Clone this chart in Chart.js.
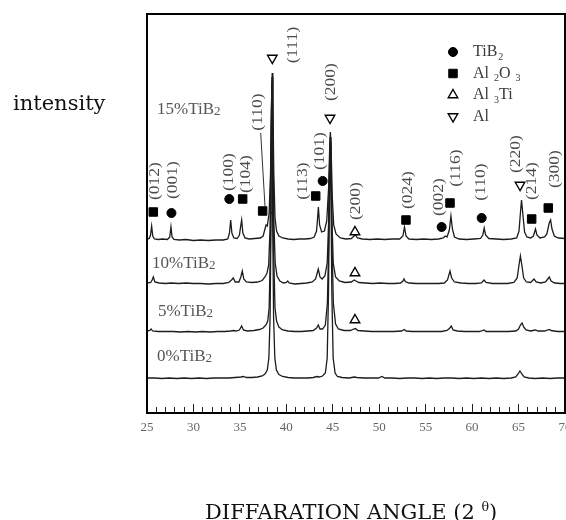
<!DOCTYPE html>
<html>
<head>
<meta charset="utf-8">
<title>XRD patterns</title>
<script src="https://cdn.jsdelivr.net/npm/chart.js@4.4.0/dist/chart.umd.min.js"></script>
<style>
  html, body { margin: 0; padding: 0; background: #fff; }
  #wrap { position: relative; width: 566px; height: 520px; overflow: hidden; }
  #xrd { position: absolute; left: 0; top: 0; }
  .outer-label { position: absolute; font-family: 'DejaVu Serif', serif; color: #111; white-space: nowrap; }
  #ylab { left: 13px; top: 90px; font-size: 21px; line-height: 26px; }
  #xlab { left: 205px; top: 494px; font-size: 21px; line-height: 26px; }
  #xlab sup { font-size: 0.6em; vertical-align: 0.65em; }
</style>
</head>
<body>
<div id="wrap">
  <canvas id="xrd" width="566" height="520"></canvas>
  <div id="ylab" class="outer-label">intensity</div>
  <div id="xlab" class="outer-label">DIFFARATION ANGLE (2 <sup>θ</sup>)</div>
</div>
<script>
// ── Axis range (2θ, degrees) ──
const X_MIN = 25, X_MAX = 70, MAJOR_STEP = 5, MINOR_STEP = 1;
const Y_MIN = 0, Y_MAX = 399;   // arbitrary intensity units

// ── Patterns: [2θ, intensity] ──
const pattern15 = [
  [25.0,174],[25.25,174.5],[25.38,178],[25.5,187],[25.62,177],[25.8,174],[26.2,173.5],[26.7,174],
  [27.2,173.5],[27.45,176],[27.58,186],[27.7,176],[27.9,173.5],[28.5,173],[29.2,173.5],[30.0,172.5],
  [30.8,173],[31.6,172.5],[32.4,173],[33.2,173],[33.7,174],[33.88,180],[34.01,193],[34.14,180],
  [34.35,175],[34.7,174.5],[34.95,178],[35.07,186],[35.19,193],[35.32,180],[35.55,175],[36.0,174],
  [36.6,174.5],[37.2,175],[37.5,177],[37.7,184],[37.82,188],[37.95,187],[38.15,200],[38.3,240],
  [38.42,318],[38.48,340],[38.55,318],[38.65,240],[38.78,195],[38.95,182],[39.2,177],[39.6,175],
  [40.2,174],[40.8,173.5],[41.4,174],[42.0,174],[42.6,174.5],[43.0,176],[43.25,182],[43.35,193],
  [43.45,206],[43.58,188],[43.8,181],[44.1,182],[44.35,192],[44.55,225],[44.68,270],[44.74,281],
  [44.82,265],[44.95,215],[45.1,188],[45.35,179],[45.8,175],[46.4,174],[47.0,174.5],[47.3,177],
  [47.45,178],[47.65,175],[48.2,174],[49.0,173.5],[49.8,174],[50.6,173.5],[51.4,174],[52.2,174],
  [52.55,177],[52.72,186],[52.88,177],[53.2,174],[54.0,173.5],[54.8,174],[55.6,173.5],[56.4,174],
  [56.9,175],[57.1,177],[57.3,176],[57.55,183],[57.72,197],[57.88,184],[58.1,176],[58.6,174],
  [59.4,173.5],[60.2,174],[60.9,174.5],[61.15,178],[61.3,185],[61.45,178],[61.8,174.5],[62.6,174],
  [63.4,173.5],[64.2,174],[64.8,175],[65.05,182],[65.2,200],[65.32,213],[65.45,200],[65.65,181],
  [65.9,176],[66.3,175],[66.6,177],[66.82,184],[66.98,178],[67.3,175],[67.8,176],[68.05,179],
  [68.3,190],[68.45,193],[68.6,184],[68.85,177],[69.3,175],[70.0,174.5]
];
const pattern10 = [
  [25.0,130],[25.4,130.5],[25.55,133],[25.68,136],[25.85,131],[26.3,130],[27.0,129.5],[27.6,130],
  [28.4,129.5],[29.2,130],[30.0,129.5],[30.8,129.5],[31.6,129],[32.4,129.5],[33.2,129.5],[33.8,130.5],
  [34.1,133],[34.29,135],[34.5,131],[34.9,131],[35.1,136],[35.26,142],[35.42,134],[35.7,131],
  [36.3,130.5],[36.9,131],[37.4,132.5],[37.7,136],[37.92,140],[38.1,148],[38.25,185],[38.38,290],
  [38.46,336],[38.54,290],[38.66,190],[38.8,150],[39.0,137],[39.3,132],[39.7,130],[40.0,130.5],
  [40.15,132],[40.3,130],[40.9,129],[41.6,129.5],[42.2,130],[42.8,131],[43.15,134],[43.44,144],
  [43.62,136],[43.85,134],[44.15,137],[44.4,150],[44.55,190],[44.67,255],[44.73,276],[44.8,255],
  [44.92,190],[45.05,150],[45.3,136],[45.7,132],[46.3,130.5],[47.0,131],[47.3,133],[47.5,132],
  [47.8,130.5],[48.5,130],[49.3,129.5],[50.1,130],[50.9,129.5],[51.7,129.5],[52.3,130],[52.55,132],
  [52.67,134],[52.8,131.5],[53.2,130],[54.0,129.5],[54.8,129.5],[55.6,129.5],[56.4,129.5],[57.0,130],
  [57.35,133],[57.62,142],[57.8,135],[58.1,131],[58.8,130],[59.6,129.5],[60.4,129.5],[61.0,130],
  [61.28,133],[61.5,130.5],[62.2,129.5],[63.0,129.5],[63.8,129.5],[64.5,130.5],[64.85,135],[65.05,148],
  [65.2,157],[65.35,148],[65.55,135],[65.85,131],[66.3,130.5],[66.66,134],[66.9,131],[67.4,130],
  [67.9,131],[68.15,134],[68.31,136],[68.5,132],[68.9,130],[69.5,129.5],[70.0,129.5]
];
const pattern5 = [
  [25.0,82],[25.3,82.5],[25.45,84],[25.6,82],[26.2,81.5],[27.0,81.5],[27.8,81.5],[28.6,81],
  [29.4,81.5],[30.2,81],[31.0,81.5],[31.8,81],[32.6,81.5],[33.4,81.5],[34.0,82],[34.3,82.5],
  [34.6,82],[34.95,83],[35.19,87],[35.38,83],[35.8,82],[36.5,82.5],[37.1,83.5],[37.5,85],
  [37.8,88],[38.0,92],[38.15,105],[38.28,160],[38.4,300],[38.46,332],[38.52,300],[38.64,160],
  [38.78,105],[38.95,92],[39.2,86],[39.6,83],[40.2,82],[40.9,81.5],[41.6,81.5],[42.3,82],
  [42.9,82.5],[43.25,85],[43.44,88],[43.62,84],[43.9,84],[44.2,88],[44.42,110],[44.56,170],
  [44.68,255],[44.74,271],[44.8,255],[44.92,170],[45.06,110],[45.3,89],[45.6,84],[46.2,82.5],
  [46.9,82.5],[47.25,84],[47.45,84.5],[47.7,82.5],[48.4,82],[49.2,81.5],[50.0,81.5],[50.8,81.5],
  [51.6,81.5],[52.4,82],[52.7,83.5],[52.9,82],[53.5,81.5],[54.3,81.5],[55.1,81.5],[55.9,81.5],
  [56.7,81.5],[57.3,82.5],[57.6,85],[57.76,87],[57.95,83],[58.4,82],[59.2,81.5],[60.0,81.5],
  [60.8,81.5],[61.3,83],[61.5,81.5],[62.3,81.5],[63.1,81.5],[63.9,81.5],[64.7,82],[65.0,84],
  [65.2,88],[65.38,90],[65.55,86],[65.8,83],[66.3,82],[66.8,83],[67.1,82],[67.8,82],
  [68.3,83.5],[68.5,82.5],[69.2,81.5],[70.0,81.5]
];
const pattern0 = [
  [25.0,35],[25.8,35],[26.6,34.5],[27.4,35],[28.2,34.5],[29.0,35],[29.8,34.5],[30.6,35],
  [31.4,34.5],[32.2,35],[33.0,35],[33.8,35],[34.5,35.5],[35.1,36],[35.4,36.5],[35.7,35.5],
  [36.3,35.5],[36.9,36],[37.4,37],[37.7,39],[37.95,43],[38.12,55],[38.25,95],[38.36,200],
  [38.44,328],[38.52,200],[38.63,95],[38.76,55],[38.93,43],[39.2,38.5],[39.6,36.5],[40.2,35.5],
  [40.9,35],[41.6,35],[42.3,35],[42.9,35.5],[43.3,36.5],[43.55,36],[43.9,37],[44.2,40],
  [44.4,55],[44.54,120],[44.66,240],[44.72,266],[44.78,240],[44.9,120],[45.04,55],[45.25,40],
  [45.5,36.5],[46.0,35.5],[46.8,35],[47.3,36],[47.6,35.5],[48.4,35],[49.2,35],[49.9,35],
  [50.3,36.5],[50.6,35],[51.4,35],[52.2,34.5],[53.0,35],[53.8,35],[54.6,34.5],[55.4,35],
  [56.2,34.5],[57.0,35],[57.8,35],[58.6,34.5],[59.4,35],[60.2,34.5],[61.0,35],[61.8,34.5],
  [62.6,35],[63.4,34.5],[64.2,35],[64.7,36],[64.95,39],[65.15,42],[65.35,39],[65.6,36],
  [66.1,35],[66.8,34.5],[67.6,35],[68.4,34.5],[69.2,35],[70.0,35]
];

// ── Phase markers: [2θ, intensity] ──
const tib2Marks  = [[27.63,200],[33.86,214],[43.91,232],[56.72,186],[61.03,195]];
const al2o3Marks = [[25.68,201],[35.30,214],[37.45,202],[43.16,217],[52.88,193],[57.62,210],[66.41,194],[68.20,205]];
const al3tiMarks = [[47.39,181],[47.39,140],[47.39,93]];
const alMarks    = [[38.49,355],[44.70,295],[65.16,228]];

const phaseNames  = ['TiB_2', 'Al _2O _3', 'Al _3Ti', 'Al'];
const sampleNames = ['15%TiB_2', '10%TiB_2', '5%TiB_2', '0%TiB_2'];
// label anchor (left edge, middle) as [2θ, intensity]
const sampleAnchors = [[26.08,303],[25.54,149],[26.18,101],[26.08,56]];

// Miller index labels: [2θ, intensity, text] (centre of the rotated text)
const hklLabels = [
  [25.86,232,'(012)'],[27.83,233,'(001)'],[33.86,241,'(100)'],[35.66,239,'(104)'],
  [36.98,301,'(110)'],[40.75,368,'(111)'],[44.88,331,'(200)'],[41.83,232,'(113)'],
  [43.62,262,'(101)'],[47.57,212,'(200)'],[53.13,223,'(024)'],[56.47,216,'(002)'],
  [58.34,245,'(116)'],[61.03,231,'(110)'],[64.80,259,'(220)'],[66.52,232,'(214)'],
  [68.92,244,'(300)']
];
// leader line from the Al2O3 (110) label down to its peak
const leader = [[37.24,280],[37.70,207]];

const toXY = pts => pts.map(([x, y]) => ({ x, y }));

// ── Styles ──
const SERIF = '"Liberation Serif", "Times New Roman", serif';
const traceStyle = { showLine: true, pointRadius: 0, borderColor: '#1c1c1c', borderWidth: 1.3, tension: 0, order: 2 };
const markStyle = { showLine: false, order: 1, pointBorderColor: '#000' };

// draws "TiB_2" style text with the digit after '_' as a subscript
function drawRich(ctx, str, x, y, size, subScale, subDrop, subGap) {
  const parts = str.split(/_(\d)/);
  let cx = x;
  parts.forEach((p, i) => {
    if (!p) return;
    const sub = i % 2 === 1;
    ctx.font = (sub ? Math.round(size * subScale) : size) + 'px ' + SERIF;
    if (sub) cx += subGap;
    ctx.fillText(p, cx, y + (sub ? subDrop : 0));
    cx += ctx.measureText(p).width;
  });
}

function markerPoint(ctx, ds, px, py) {
  ctx.fillStyle = ds.pointBackgroundColor;
  ctx.strokeStyle = ds.pointBorderColor;
  ctx.lineWidth = ds.pointBorderWidth;
  Chart.helpers.drawPoint(ctx, {
    pointStyle: ds.pointStyle, radius: ds.pointRadius,
    rotation: ds.pointRotation || 0, borderWidth: ds.pointBorderWidth
  }, px, py);
}

const annotate = {
  id: 'annotate',
  afterDatasetsDraw(chart) {
    const { ctx, chartArea: a, scales: { x, y } } = chart;
    ctx.save();

    // Miller indices, rotated to read bottom-to-top
    ctx.fillStyle = '#4a4a4a';
    ctx.font = '14px ' + SERIF;
    ctx.textAlign = 'center';
    ctx.textBaseline = 'middle';
    hklLabels.forEach(([ang, val, txt]) => {
      ctx.save();
      ctx.translate(x.getPixelForValue(ang), y.getPixelForValue(val));
      ctx.rotate(-Math.PI / 2);
      ctx.scale(1.25, 1);
      ctx.fillText(txt, 0, 0);
      ctx.restore();
    });

    ctx.strokeStyle = '#333';
    ctx.lineWidth = 1;
    ctx.beginPath();
    ctx.moveTo(x.getPixelForValue(leader[0][0]), y.getPixelForValue(leader[0][1]));
    ctx.lineTo(x.getPixelForValue(leader[1][0]), y.getPixelForValue(leader[1][1]));
    ctx.stroke();

    // sample names
    ctx.textAlign = 'left';
    ctx.fillStyle = '#555';
    sampleNames.forEach((name, i) => {
      const [ang, val] = sampleAnchors[i];
      drawRich(ctx, name, x.getPixelForValue(ang), y.getPixelForValue(val), 17, 0.75, 2, 0);
    });

    // legend (top right, inside the frame)
    const marks = chart.data.datasets.filter(d => d.phase);
    marks.forEach((ds, i) => {
      const ly = a.top + 38 + i * 21.5;
      markerPoint(ctx, ds, a.left + 306, ly);
      ctx.fillStyle = '#3a3a3a';
      drawRich(ctx, phaseNames[i], a.left + 326, ly, 16, 0.6, 5, 1);
    });

    // frame
    ctx.strokeStyle = '#000';
    ctx.lineWidth = 2;
    ctx.strokeRect(a.left, a.top, a.width, a.height);
    ctx.restore();
  }
};

new Chart(document.getElementById('xrd'), {
  type: 'scatter',
  data: {
    datasets: [
      { label: '15%TiB2', data: toXY(pattern15), ...traceStyle },
      { label: '10%TiB2', data: toXY(pattern10), ...traceStyle },
      { label: '5%TiB2',  data: toXY(pattern5),  ...traceStyle },
      { label: '0%TiB2',  data: toXY(pattern0),  ...traceStyle },
      { label: 'TiB2', phase: true, data: toXY(tib2Marks), ...markStyle,
        pointStyle: 'circle', pointRadius: 4.5, pointBackgroundColor: '#000', pointBorderWidth: 1 },
      { label: 'Al2O3', phase: true, data: toXY(al2o3Marks), ...markStyle,
        pointStyle: 'rect', pointRadius: 6, pointBackgroundColor: '#000', pointBorderWidth: 1 },
      { label: 'Al3Ti', phase: true, data: toXY(al3tiMarks), ...markStyle,
        pointStyle: 'triangle', pointRadius: 5.5, pointBackgroundColor: '#fff', pointBorderWidth: 1.4 },
      { label: 'Al', phase: true, data: toXY(alMarks), ...markStyle,
        pointStyle: 'triangle', pointRotation: 180, pointRadius: 5.5, pointBackgroundColor: '#fff', pointBorderWidth: 1.4 }
    ]
  },
  options: {
    responsive: false,
    animation: false,
    events: [],
    layout: { autoPadding: false, padding: { left: 147, right: 1, top: 14, bottom: 0 } },
    plugins: { legend: { display: false }, tooltip: { enabled: false } },
    scales: {
      // minor ticks, every degree, pointing inwards
      x2: {
        type: 'linear', position: 'bottom', min: X_MIN, max: X_MAX, weight: 0,
        border: { display: false },
        grid: { drawOnChartArea: false, tickLength: -6, color: '#222', lineWidth: 1 },
        ticks: { display: false, stepSize: MINOR_STEP, autoSkip: false, maxTicksLimit: 100 },
        afterFit: s => { s.height = 0; s.paddingLeft = 0; s.paddingRight = 0; }
      },
      x: {
        type: 'linear', position: 'bottom', min: X_MIN, max: X_MAX, weight: 1,
        border: { display: false },
        grid: { drawOnChartArea: false, tickLength: -9, color: '#222', lineWidth: 1 },
        ticks: {
          stepSize: MAJOR_STEP, autoSkip: false, maxRotation: 0, padding: 16,
          color: '#666', font: { family: SERIF, size: 13 }
        },
        afterFit: s => { s.height = 107; s.paddingLeft = 0; s.paddingRight = 0; }
      },
      y: { display: false, min: Y_MIN, max: Y_MAX }
    }
  },
  plugins: [annotate]
});
</script>
</body>
</html>
